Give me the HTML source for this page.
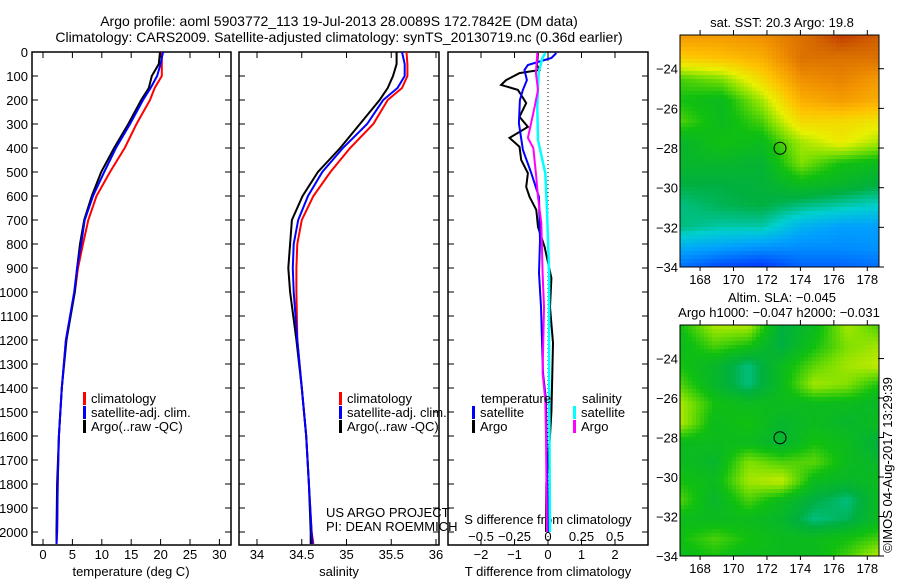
<!DOCTYPE html>
<html><head><meta charset="utf-8"><style>
html,body{margin:0;padding:0;background:#fff}
svg{display:block;font-family:"Liberation Sans",sans-serif;font-size:13px}
</style></head><body>
<svg id="fig" width="900" height="580" viewBox="0 0 900 580">
<text x="339" y="26" text-anchor="middle" font-size="14">Argo profile: aoml 5903772_113 19-Jul-2013 28.0089S 172.7842E (DM data)</text>
<text x="339" y="42" text-anchor="middle" font-size="14">Climatology: CARS2009. Satellite-adjusted climatology: synTS_20130719.nc (0.36d earlier)</text>
<g id="gm1"></g>
<g id="gm2"></g>
<g id="g"></g>
<g id="g2"></g>
</svg>
<script>
// ---- data ----
const depthP = [0,50,100,150,200,300,400,500,600,700,800,900,1000,1200,1400,1600,1800,2000,2050];
const climT = [20.2,20.2,20.2,19.0,18.2,15.9,13.9,11.4,9.1,7.7,6.8,5.95,5.4,3.9,3.2,2.7,2.5,2.4,2.3];
const satT  = [20.4,20.0,19.4,18.3,17.0,14.8,12.4,10.4,8.5,7.1,6.5,5.8,5.3,3.9,3.2,2.7,2.5,2.4,2.3];
const argoT = [19.9,19.7,18.5,18.0,16.7,14.5,12.1,9.9,8.3,7.0,6.3,5.8,5.4,4.0,3.2,2.7,2.4,2.3,2.3];
const climS = [35.67,35.68,35.68,35.62,35.46,35.30,35.04,34.82,34.63,34.50,34.45,34.44,34.44,34.45,34.50,34.55,34.58,34.61,34.63];
const satS  = [35.62,35.65,35.65,35.57,35.41,35.23,34.96,34.73,34.57,34.46,34.41,34.40,34.41,34.45,34.50,34.55,34.58,34.61,34.62];
const argoS = [35.56,35.56,35.52,35.46,35.37,35.15,34.93,34.68,34.51,34.39,34.37,34.35,34.37,34.44,34.50,34.55,34.58,34.60,34.60];
const dA = [4,54,75,88,117,137,158,179,213,270,312,358,395,450,505,562,604,658,729,812,942,1062,1212,1396,1500,1600,1800,2000];
const argoTd = [-0.3,-0.33,-0.25,-0.85,-1.25,-1.4,-0.9,-0.8,-0.65,-0.85,-0.6,-1.15,-0.85,-0.8,-0.6,-0.65,-0.55,-0.35,-0.3,-0.1,0.1,0.06,0.15,0.12,0.1,0.06,-0.05,-0.06];
const dB = [4,25,54,75,117,158,200,297,408,505,604,785,921,1062,1337,1450,2000];
const satTd = [0.25,0.1,-0.6,-0.7,-0.63,-0.75,-0.84,-0.87,-0.75,-0.5,-0.27,-0.24,-0.27,-0.21,-0.15,-0.06,0];
const dC = [4,88,158,229,358,400,505,604,712,921,1062,1337,1450,1600,2000];
const argoSd = [-0.08,-0.09,-0.075,-0.1,-0.15,-0.11,-0.09,-0.075,-0.05,-0.04,-0.03,-0.04,-0.02,-0.015,-0.008];
const dD = [4,29,88,229,367,505,646,921,1337,2000];
const satSd = [-0.02,-0.045,-0.07,-0.08,-0.075,-0.02,-0.008,0.008,0.008,0.015];
const sst = [
[.78,.78,.8,.85,.92,.88],[.7,.72,.75,.85,.85,.85],[.55,.58,.68,.8,.82,.78],[.52,.5,.6,.75,.78,.75],
[.55,.5,.55,.68,.68,.66],[.48,.52,.5,.6,.65,.6],[.48,.48,.47,.58,.52,.5],[.45,.45,.46,.5,.48,.45],
[.42,.44,.45,.42,.4,.38],[.42,.4,.4,.33,.3,.3],[.32,.3,.28,.27,.27,.28],[.22,.15,.12,.2,.2,.22]];
const sla = [
[.52,.6,.6,.45,.5,.6,.55],[.5,.55,.52,.45,.52,.58,.6],[.52,.48,.42,.5,.56,.6,.62],[.55,.48,.42,.5,.6,.58,.52],
[.6,.52,.5,.5,.5,.5,.48],[.6,.5,.52,.48,.5,.48,.5],[.5,.5,.5,.47,.52,.5,.45],[.5,.48,.58,.55,.56,.5,.48],
[.52,.5,.6,.62,.5,.48,.5],[.55,.48,.55,.5,.45,.42,.5],[.5,.5,.5,.48,.42,.44,.5],[.52,.55,.52,.5,.5,.52,.55],[.5,.52,.5,.5,.5,.55,.62]];
const tTicks=[0,5,10,15,20,25,30], sTicks=[34,34.5,35,35.5,36], dTicks=[-2,-1,0,1,2], sdTicks=[-0.5,-0.25,0,0.25,0.5];
const depthTicks=[0,100,200,300,400,500,600,700,800,900,1000,1100,1200,1300,1400,1500,1600,1700,1800,1900,2000];
const latTicks=[24,26,28,30,32,34], lonTicks=[168,170,172,174,176,178];

// ---- drawing ----
const NS="http://www.w3.org/2000/svg";
const G=document.getElementById('g');
function el(t,a,p){const e=document.createElementNS(NS,t);for(const k in a)e.setAttribute(k,a[k]);(p||G).appendChild(e);return e;}
const yD=d=>52+0.24*d;
const yTop=52,yBot=545;
const P=[{x0:32,x1:231,fx:v=>43+5.88*v},{x0:239,x1:439,fx:v=>257+89.5*(v-34)},{x0:448,x1:648,fx:v=>548+33.5*v}];
const fS3=v=>548+134*v;
P.forEach((p,i)=>{
  const r=el('rect',{x:p.x0,y:yTop,width:p.x1-p.x0,height:yBot-yTop,fill:'none',stroke:'#000','stroke-width':1.5});
  
  
  depthTicks.forEach(d=>{
    el('line',{x1:p.x0,x2:p.x0+6,y1:yD(d),y2:yD(d),stroke:'#000'});
    el('line',{x1:p.x1-6,x2:p.x1,y1:yD(d),y2:yD(d),stroke:'#000'});
  });
});
depthTicks.forEach(d=>{const t=el('text',{x:28,y:yD(d)+5,'text-anchor':'end'});t.textContent=d;
  
  });
function xt(p,ticks,labY,fmt){ticks.forEach(v=>{const x=p.fx(v);
  el('line',{x1:x,x2:x,y1:yBot-6,y2:yBot,stroke:'#000'});
  el('line',{x1:x,x2:x,y1:yTop,y2:yTop+6,stroke:'#000'});
  const t=el('text',{x:x,y:labY,'text-anchor':'middle'});t.textContent=fmt(v);
  
  });}
const mf=v=>String(v).replace('-','\u2212');
xt(P[0],tTicks,559,mf); xt(P[1],sTicks,559,mf); xt(P[2],dTicks,559,mf);
sdTicks.forEach(v=>{const t=el('text',{x:fS3(v),y:541,'text-anchor':'middle'});t.textContent=mf(v);
  
  });
function lab(x,y,s,name,anchor){const t=el('text',{x:x,y:y,'text-anchor':anchor||'middle'});t.textContent=s;
  
  return t;}
lab(131,576,'temperature (deg C)','x-axis-title-temperature');
lab(339,576,'salinity','x-axis-title-salinity');
lab(548,576,'T difference from climatology','x-axis-title-t-diff');
lab(548,524,'S difference from climatology','axis-title-s-diff');
lab(326,517,'US ARGO PROJECT','project-label','start');
lab(326,531,'PI: DEAN ROEMMICH','pi-label','start');
el('line',{x1:548,x2:548,y1:yTop,y2:yBot,stroke:'#000','stroke-dasharray':'1,3'});
function line(xs,ds,fx,col,name,w){const pts=xs.map((v,i)=>fx(v).toFixed(1)+','+yD(ds[i]).toFixed(1)).join(' ');
  const l=el('polyline',{points:pts,fill:'none',stroke:col,'stroke-width':w||2});
  
  }
line(climT,depthP,P[0].fx,'#f00','temp-climatology');
line(argoT,depthP,P[0].fx,'#000','temp-argo');
line(satT,depthP,P[0].fx,'#00f','temp-satellite');
line(climS,depthP,P[1].fx,'#f00','sal-climatology');
line(argoS,depthP,P[1].fx,'#000','sal-argo');
line(satS,depthP,P[1].fx,'#00f','sal-satellite');
line(argoTd,dA,P[2].fx,'#000','tdiff-argo');
line(satTd,dB,P[2].fx,'#00f','tdiff-satellite');
line(satSd,dD,fS3,'#0ff','sdiff-satellite',2.5);
line(argoSd,dC,fS3,'#f0f','sdiff-argo');
function leg(x,y,col,s,name){const b=el('rect',{x:x,y:y-11,width:3,height:13,fill:col});
  
  
  lab(x+8,y,s,name,'start');}
[[83,'panel1'],[339,'panel2']].forEach(([x,n])=>{
  leg(x,403,'#f00','climatology','legend-climatology-'+n);
  leg(x,417,'#00f','satellite-adj. clim.','legend-satellite-'+n);
  leg(x,431,'#000','Argo(..raw -QC)','legend-argo-'+n);});
lab(481,403,'temperature','legend-title-temperature','start');
leg(472,417,'#00f','satellite','legend-t-satellite');
leg(472,431,'#000','Argo','legend-t-argo');
lab(582,403,'salinity','legend-title-salinity','start');
leg(573,417,'#0ff','satellite','legend-s-satellite');
leg(573,431,'#f0f','Argo','legend-s-argo');

// ---- maps ----
const stops=[[0,[0,0,143]],[.15,[0,64,255]],[.3,[0,160,255]],[.38,[0,208,208]],[.45,[0,176,64]],[.52,[16,192,16]],[.58,[128,224,0]],[.64,[232,240,0]],[.72,[255,192,0]],[.8,[240,144,0]],[.88,[208,96,0]],[1,[176,0,0]]];
function cmap(v){v=Math.max(0,Math.min(1,v));for(let i=1;i<stops.length;i++){if(v<=stops[i][0]){const a=stops[i-1],b=stops[i],t=(v-a[0])/(b[0]-a[0]);return a[1].map((c,k)=>Math.round(c+(b[1][k]-c)*t));}}return stops[stops.length-1][1];}
function field(gid,grid,X,Y,W,H){const gp=document.getElementById(gid);const R=grid.length,C=grid[0].length,s=4;
  for(let y=0;y<H;y+=s)for(let x=0;x<W;x+=s){const gx=x/W*(C-1),gy=y/H*(R-1);const i=Math.floor(gx),j=Math.floor(gy);const i1=Math.min(i+1,C-1),j1=Math.min(j+1,R-1);const fx=gx-i,fy=gy-j;
    const v=grid[j][i]*(1-fx)*(1-fy)+grid[j][i1]*fx*(1-fy)+grid[j1][i]*(1-fx)*fy+grid[j1][i1]*fx*fy;
    const c=cmap(v);
    el('rect',{x:X+x,y:Y+y,width:Math.min(s,W-x)+0.3,height:Math.min(s,H-y)+0.3,fill:'rgb('+c+')'},gp);}}
field('gm1',sst,680,35,199,232); field('gm2',sla,680,325,199,231);
const G2=document.getElementById('g2');
function e2(t,a){return el(t,a,G2);}
[[35,267,'top'],[325,556,'bottom']].forEach(([y0,y1,n])=>{
  const fy=lat=>y1-(34-lat)*(y1-y0)/11.7, fx=lon=>680+(lon-166.8)*199/11.9;
  const r=e2('rect',{x:680,y:y0,width:199,height:y1-y0,fill:'none',stroke:'#000'});
  
  
  latTicks.forEach(l=>{const y=fy(l);e2('line',{x1:878,x2:884,y1:y,y2:y,stroke:'#000'});
    const t=e2('text',{x:678,y:y+5,'text-anchor':'end'});t.textContent='\u2212'+l;
    
    });
  lonTicks.forEach(l=>{const x=fx(l);e2('line',{x1:x,x2:x,y1:y0-5,y2:y0,stroke:'#000'});e2('line',{x1:x,x2:x,y1:y1,y2:y1+4,stroke:'#000'});
    const t=e2('text',{x:x,y:y1+17,'text-anchor':'middle'});t.textContent=l;
    
    });
  const c=e2('circle',{cx:fx(172.78),cy:fy(28.01),r:6,fill:'none',stroke:'#000'});
  
  
});
function t2(x,y,s,name,extra){const t=e2('text',Object.assign({x:x,y:y,'text-anchor':'middle'},extra||{}));t.textContent=s;
  
  }
t2(782,27,'sat. SST: 20.3 Argo: 19.8','sst-map-title');
t2(782,302,'Altim. SLA: \u22120.045','sla-map-title');
t2(779,317,'Argo h1000: \u22120.047 h2000: \u22120.031','argo-height-label');
t2(892,465,'\u00a9IMOS 04-Aug-2017 13:29:39','timestamp-label',{transform:'rotate(-90 892 465)'});
</script>
</body></html>
